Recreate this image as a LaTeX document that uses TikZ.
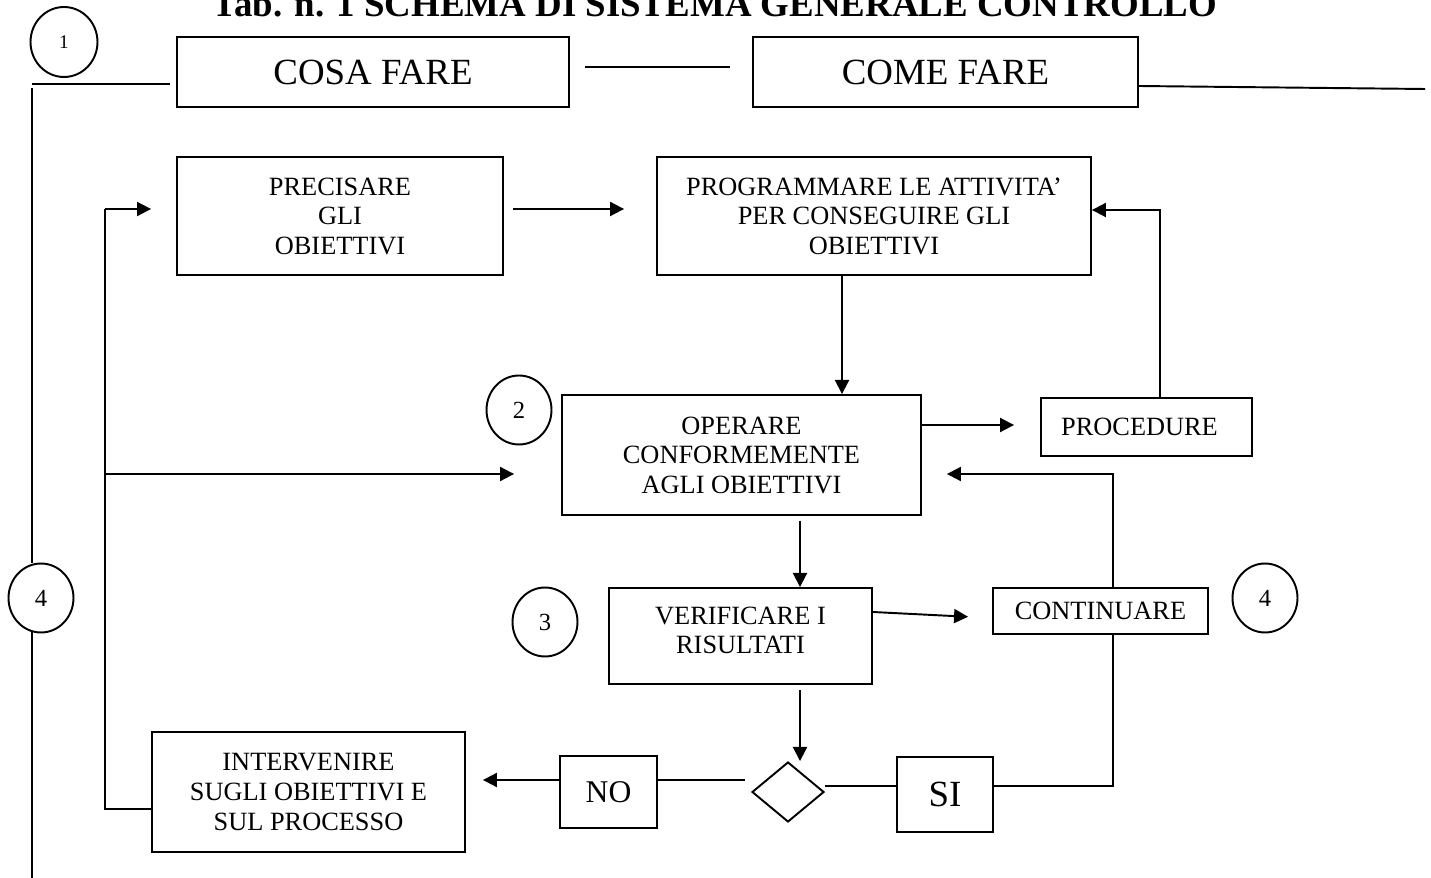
\documentclass[tikz,border=0pt]{standalone}
\usepackage{fontspec}
\setmainfont{Liberation Serif}
\usetikzlibrary{arrows.meta,shapes.geometric,calc}

\begin{document}
\begin{tikzpicture}[x=0.02cm,y=-0.02cm,
  line width=1.1pt,
  box/.style={draw, inner sep=0pt, align=center, font=\fontsize{15}{16.8}\selectfont},
  bigbox/.style={draw, inner sep=0pt, font=\fontsize{21}{24}\selectfont},
  num/.style={draw, ellipse, minimum width=1.30cm, minimum height=1.38cm, inner sep=0pt, font=\fontsize{14}{16}\selectfont},
  arr/.style={-{Triangle[length=8pt,width=8pt]}},
]
\useasboundingbox (0,0) rectangle (1431,878);
\clip (0,0) rectangle (1431,878);

% title (its upper part runs off the page)
\node[font=\bfseries\fontsize{21}{24}\selectfont, anchor=base] (title) at (715,17)
  {Tab. n. 1 SCHEMA DI SISTEMA GENERALE CONTROLLO};

% header boxes
\node[bigbox, minimum width=7.84cm, minimum height=1.40cm] (cosa) at (373,72) {COSA FARE};
\node[bigbox, minimum width=7.70cm, minimum height=1.40cm] (come) at (945.5,72) {COME FARE};

% numbered circles
\node[num, font=\fontsize{11}{13}\selectfont, minimum width=1.34cm, minimum height=1.40cm] (n1) at (64,42) {1};
\node[num] (n2) at (519,410) {2};
\node[num] (n3) at (545,622) {3};
\node[num] (n4r) at (1265,598) {4};
\node[num] (n4l) at (41,598) {4};

% process boxes
\node[box, minimum width=6.52cm, minimum height=2.36cm] (prec) at (340,216) {PRECISARE\\GLI\\OBIETTIVI};
\node[box, minimum width=8.68cm, minimum height=2.36cm] (prog) at (874,216) {PROGRAMMARE LE ATTIVITA’\\PER CONSEGUIRE GLI\\OBIETTIVI};
\node[box, minimum width=7.18cm, minimum height=2.40cm] (oper) at (741.5,455) {OPERARE\\CONFORMEMENTE\\AGLI OBIETTIVI};
\node[box, minimum width=4.22cm, minimum height=1.16cm] (proc) at (1146.5,427) {PROCEDURE\hspace*{0.28cm}};
\node[box, minimum width=5.26cm, minimum height=1.92cm, text depth=0.22cm] (ver) at (740.5,636) {VERIFICARE I\\RISULTATI};
\node[box, minimum width=4.30cm, minimum height=0.92cm] (cont) at (1100.5,611) {CONTINUARE};
\node[box, minimum width=6.26cm, minimum height=2.40cm] (int) at (308.5,792) {INTERVENIRE\\SUGLI OBIETTIVI E\\SUL PROCESSO};
\node[draw, inner sep=0pt, minimum width=1.94cm, minimum height=1.44cm, font=\fontsize{18}{20}\selectfont] (no) at (608.5,792) {NO};
\node[draw, inner sep=0pt, minimum width=1.92cm, minimum height=1.50cm, font=\fontsize{21}{24}\selectfont] (si) at (945,794.5) {SI};
\node[draw, diamond, inner sep=0pt, minimum width=1.44cm, minimum height=1.20cm] (dec) at (788,792) {};

% routing points
\coordinate (tl) at (32,84);
\coordinate (tlr) at (170,84);
\coordinate (spine) at (32,88);
\coordinate (spineEnd) at (32,878);
\coordinate (m1) at (585,67);
\coordinate (m2) at (730,67);
\coordinate (rEnd) at (1425,89);
\coordinate (lp) at (105,209);
\coordinate (lb) at (105,809);
\coordinate (lm) at (105,474);
\coordinate (pu) at (1160,210);
\coordinate (pd) at ([xshift=-0.64cm]prog.south);
\coordinate (op) at (921,425);
\coordinate (cu) at (1113,474);
\coordinate (vd) at (800,520);
\coordinate (nl) at (0,780);
\coordinate (sl) at (0,786);

% outer frame lines
\draw (tl) -- (tlr);
\draw (spine) -- (spine |- n4l.north);
\draw ([yshift=0.04cm]n4l.south -| spine) -- (spineEnd);
\draw (m1) -- (m2);
\draw (come.east |- 0,86) -- (rEnd);

% left feedback loop
\draw[arr, shorten >=0.5cm] (lp) -- (lp -| prec.west);
\draw (lp) -- (lb) -- (lb -| int.west);
\draw[arr, shorten >=0.94cm] (lm) -- (lm -| oper.west);

% main flow
\draw[arr, shorten <=0.18cm, shorten >=0.64cm] (prec.east |- lp) -- (prog.west |- lp);
\draw[arr] (pu |- proc.north) -- (pu) -- (pu -| prog.east);
\draw[arr] (pd) -- (pd |- oper.north);
\draw[arr, shorten >=0.52cm] (op -| oper.east) -- (op -| proc.west);
\draw[arr, shorten >=0.5cm] (cu |- cont.north) -- (cu) -- (cu -| oper.east);
\draw[arr, shorten <=0.1cm] (vd |- oper.south) -- (vd |- ver.north);
\draw[arr, shorten >=0.48cm] ($(ver.east)+(0,-24)$) -- ($(cont.west)+(0,7)$);
\draw[arr, shorten <=0.1cm] (vd |- ver.south) -- (vd |- dec.north);

% decision branches
\draw[shorten >=0.12cm] (no.east |- nl) -- (dec.west |- nl);
\draw[arr, shorten >=0.34cm] (no.west |- nl) -- (int.east |- nl);
\draw (dec.east |- sl) -- (si.west |- sl);
\draw (si.east |- sl) -- (cu |- sl) -- (cu |- cont.south);
\end{tikzpicture}
\end{document}
